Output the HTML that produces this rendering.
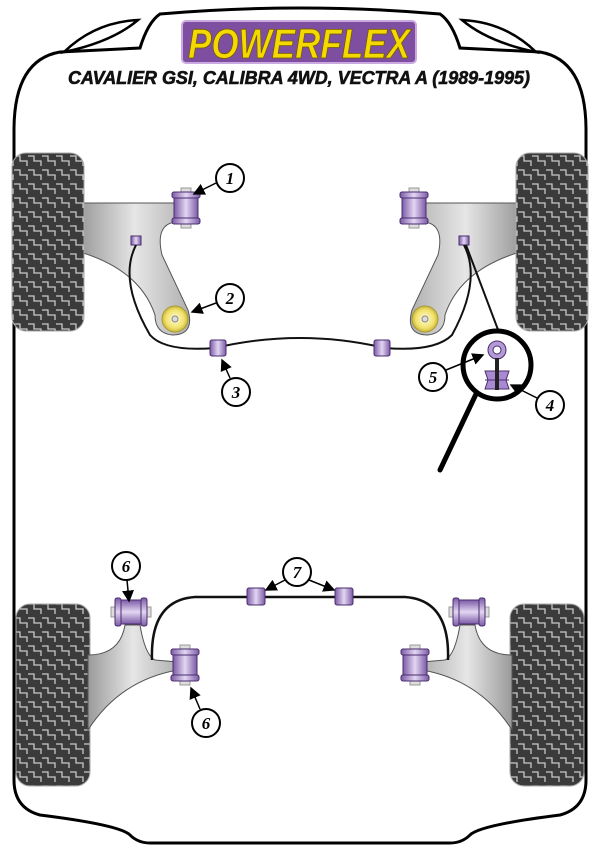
<!DOCTYPE html>
<html><head><meta charset="utf-8"><style>html,body{margin:0;padding:0;background:#fff}svg{display:block}</style></head>
<body>
<svg width="600" height="848" viewBox="0 0 600 848" xmlns="http://www.w3.org/2000/svg">
<defs>
<pattern id="tread" width="14" height="14" patternUnits="userSpaceOnUse">
<rect width="14" height="14" fill="#3b3b3b"/>
<path d="M0 2 H6 V7 H13 V12" fill="none" stroke="#c8c8c8" stroke-width="1.3"/>
</pattern>
<linearGradient id="arm" x1="0" x2="1"><stop offset="0" stop-color="#9a9a9a"/><stop offset="0.5" stop-color="#e6e6e6"/><stop offset="1" stop-color="#b0b0b0"/></linearGradient>
<linearGradient id="bush" x1="0" x2="1"><stop offset="0" stop-color="#7b5aa6"/><stop offset="0.5" stop-color="#e3d6f2"/><stop offset="1" stop-color="#7b5aa6"/></linearGradient>
<radialGradient id="ball"><stop offset="0" stop-color="#fffbe0"/><stop offset="0.7" stop-color="#f2e26a"/><stop offset="1" stop-color="#c9b640"/></radialGradient>
<g id="bushV"><rect x="-5" y="-20" width="10" height="40" fill="#ddd" stroke="#999"/><rect x="-12" y="-14" width="24" height="28" rx="2" fill="url(#bush)" stroke="#4a2d6e" stroke-width="1"/><rect x="-14" y="-16" width="28" height="6" rx="2" fill="url(#bush)" stroke="#4a2d6e"/><rect x="-14" y="10" width="28" height="6" rx="2" fill="url(#bush)" stroke="#4a2d6e"/></g>
<g id="bushS"><rect x="-8" y="-8" width="16" height="16" rx="2" fill="url(#bush)" stroke="#4a2d6e"/></g>
<g id="lbl"><circle r="14" fill="#fff" stroke="#000" stroke-width="2"/></g>
<marker id="ah" markerWidth="8" markerHeight="8" refX="7" refY="4" orient="auto"><path d="M0,0 L8,4 L0,8z" fill="#000"/></marker>
</defs>

<!-- body outline -->
<path d="M14,780 L14,130 Q14,60 60,52 L140,48 Q148,22 160,14 Q300,2 440,14 Q452,22 460,48 L540,52 Q586,60 586,130 L586,780 Q586,808 560,815 Q480,825 470,835 Q462,843 450,843 L150,843 Q138,843 130,835 Q120,825 40,815 Q14,808 14,780Z" fill="none" stroke="#000" stroke-width="3"/>
<path d="M64,52 Q95,22 138,20 Q112,42 64,52Z" fill="none" stroke="#000" stroke-width="2.5"/>
<path d="M536,52 Q505,22 462,20 Q488,42 536,52Z" fill="none" stroke="#000" stroke-width="2.5"/>

<!-- logo -->
<rect x="182" y="21" width="234" height="42" rx="4" fill="#7e4fa0" stroke="#c9a9e0" stroke-width="2"/>
<text x="299" y="58" text-anchor="middle" font-family="Liberation Sans, sans-serif" font-weight="bold" font-style="italic" font-size="42" fill="#f5d800" stroke="#6b5a00" stroke-width="0.8" textLength="222" lengthAdjust="spacingAndGlyphs">POWERFLEX</text>
<text x="299" y="84" text-anchor="middle" font-family="Liberation Sans, sans-serif" font-weight="bold" font-style="italic" font-size="18" fill="#111" stroke="#111" stroke-width="0.6" textLength="462" lengthAdjust="spacingAndGlyphs">CAVALIER GSI, CALIBRA 4WD, VECTRA A (1989-1995)</text>

<!-- front arms -->
<g id="farm">
<path d="M80,203 L175,203 L175,222 Q155,225 162,255 L188,310 Q195,335 172,335 Q155,333 155,315 Q140,270 80,252Z" fill="url(#arm)" stroke="#555" stroke-width="1"/>
<circle cx="175" cy="319" r="13" fill="url(#ball)" stroke="#aa9a30"/>
<circle cx="175" cy="319" r="3" fill="#ddd" stroke="#888"/>
<use href="#bushV" x="186" y="208"/>
<rect x="131" y="236" width="10" height="9" fill="url(#bush)" stroke="#4a2d6e"/>
</g>
<use href="#farm" transform="translate(600,0) scale(-1,1)"/>

<!-- front bar -->
<path d="M136,245 Q118,280 150,335 Q165,352 215,348 Q300,328 385,348 Q435,352 452,335 Q482,280 464,245" fill="none" stroke="#111" stroke-width="2"/>
<path d="M466,245 L500,335" stroke="#111" stroke-width="2"/>
<use href="#bushS" x="218" y="348"/>
<use href="#bushS" x="382" y="348"/>

<!-- tires -->
<rect x="12" y="153" width="72" height="178" rx="14" fill="url(#tread)" stroke="#aaa"/>
<rect x="516" y="153" width="72" height="178" rx="14" fill="url(#tread)" stroke="#aaa"/>
<rect x="16" y="604" width="74" height="182" rx="14" fill="url(#tread)" stroke="#aaa"/>
<rect x="510" y="604" width="74" height="182" rx="14" fill="url(#tread)" stroke="#aaa"/>

<!-- magnifier -->
<line x1="477" y1="392" x2="440" y2="470" stroke="#000" stroke-width="5" stroke-linecap="round"/>
<circle cx="497" cy="365" r="34" fill="#fff" stroke="#000" stroke-width="5"/>
<circle cx="497" cy="350" r="9" fill="#b49ad6" stroke="#4a2d6e"/>
<circle cx="497" cy="350" r="4" fill="#fff" stroke="#4a2d6e"/>
<path d="M485,371 L509,371 L506,380 L509,389 L485,389 L488,380Z" fill="#a98ad2" stroke="#4a2d6e"/>
<line x1="485" y1="380" x2="509" y2="380" stroke="#4a2d6e"/>
<rect x="495" y="358" width="4" height="32" fill="#222"/>

<!-- rear arms -->
<g id="rarm">
<path d="M88,655 Q120,655 125,625 L140,625 Q145,655 155,660 L178,662 L178,670 Q120,680 88,730Z" fill="url(#arm)" stroke="#555"/>
<g transform="translate(131,612) rotate(-90)"><use href="#bushV"/></g>
<use href="#bushV" x="185" y="665"/>
</g>
<use href="#rarm" transform="translate(600,0) scale(-1,1)"/>
<path d="M152,660 Q150,600 195,597 L405,597 Q450,600 448,660" fill="none" stroke="#111" stroke-width="2.5"/>
<rect x="247" y="588" width="18" height="17" rx="2" fill="url(#bush)" stroke="#4a2d6e"/>
<rect x="335" y="588" width="18" height="17" rx="2" fill="url(#bush)" stroke="#4a2d6e"/>

<!-- labels -->
<g font-family="Liberation Serif, serif" font-weight="bold" font-style="italic" font-size="17" text-anchor="middle">
<line x1="216" y1="183" x2="194" y2="194" stroke="#000" stroke-width="1.5" marker-end="url(#ah)"/>
<use href="#lbl" x="230" y="178"/><text x="230" y="184">1</text>
<line x1="216" y1="303" x2="192" y2="312" stroke="#000" stroke-width="1.5" marker-end="url(#ah)"/>
<use href="#lbl" x="230" y="298"/><text x="230" y="304">2</text>
<line x1="230" y1="378" x2="222" y2="360" stroke="#000" stroke-width="1.5" marker-end="url(#ah)"/>
<use href="#lbl" x="236" y="392"/><text x="236" y="398">3</text>
<line x1="446" y1="370" x2="483" y2="355" stroke="#000" stroke-width="1.5" marker-end="url(#ah)"/>
<use href="#lbl" x="433" y="377"/><text x="433" y="383">5</text>
<line x1="537" y1="398" x2="511" y2="385" stroke="#000" stroke-width="1.5" marker-end="url(#ah)"/>
<use href="#lbl" x="550" y="405"/><text x="550" y="411">4</text>
<line x1="127" y1="580" x2="129" y2="601" stroke="#000" stroke-width="1.5" marker-end="url(#ah)"/>
<use href="#lbl" x="126" y="566"/><text x="126" y="572">6</text>
<line x1="200" y1="709" x2="191" y2="688" stroke="#000" stroke-width="1.5" marker-end="url(#ah)"/>
<use href="#lbl" x="206" y="723"/><text x="206" y="729">6</text>
<line x1="285" y1="580" x2="266" y2="590" stroke="#000" stroke-width="1.5" marker-end="url(#ah)"/>
<line x1="309" y1="580" x2="334" y2="590" stroke="#000" stroke-width="1.5" marker-end="url(#ah)"/>
<use href="#lbl" x="297" y="572"/><text x="297" y="578">7</text>
</g>
</svg>
</body></html>
